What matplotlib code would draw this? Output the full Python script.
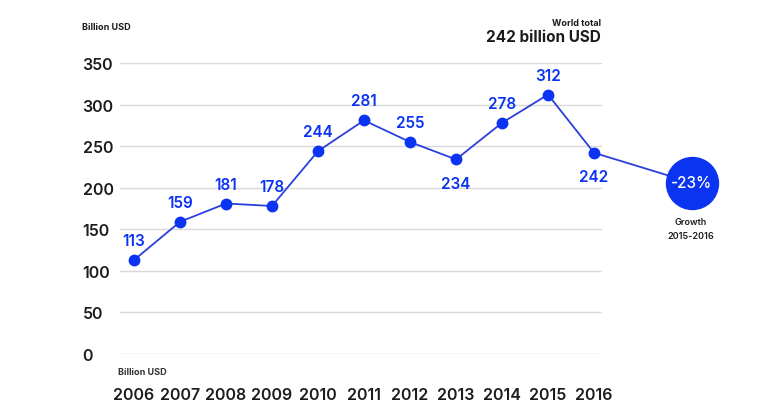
import matplotlib.pyplot as plt

plt.rcParams['font.family'] = ['Inter', 'DejaVu Sans']

years = [2006, 2007, 2008, 2009, 2010, 2011, 2012, 2013, 2014, 2015, 2016]
values = [113, 159, 181, 178, 244, 281, 255, 234, 278, 312, 242]
# label placement: 1 = above the point, -1 = below
label_side = [1, 1, 1, 1, 1, 1, 1, -1, 1, 1, -1]
yticks = [0, 50, 100, 150, 200, 250, 300, 350]

growth_text = '-23%'
growth_pos = (2018.13, 206)

blue = '#2b3fdc'
bright = '#0b33f2'
dark = '#1c1c1c'

fig = plt.figure(figsize=(7.68, 4.14), dpi=100)
ax = fig.add_axes([120 / 768, 59 / 414, 482 / 768, 291 / 414])

ax.set_xlim(2006 - 14 / 46, 2016 + 8 / 46)
ax.set_ylim(0, 350)
ax.set_yticks(yticks)
ax.set_xticks(years)
for s in ax.spines.values():
    s.set_visible(False)
ax.grid(axis='y', color='#d9d9d9', linewidth=1.0)
ax.set_axisbelow(True)

ax.tick_params(axis='y', length=0, pad=27, labelsize=11.5, labelcolor=dark)
for lbl in ax.get_yticklabels():
    lbl.set_horizontalalignment('left')
ax.tick_params(axis='x', length=0, pad=24, labelsize=11.5, labelcolor=dark)
for lbl in ax.get_xticklabels() + ax.get_yticklabels():
    lbl.set_fontweight('semibold')

# line to the growth bubble
ax.plot([years[-1], growth_pos[0]], [values[-1], growth_pos[1]],
        color=blue, linewidth=1.3, clip_on=False, zorder=2)
ax.plot(years, values, color=blue, linewidth=1.3, marker='o',
        markersize=7.5, markerfacecolor=bright, markeredgecolor=bright, zorder=3)

for x, v, side in zip(years, values, label_side):
    off = 14 if side > 0 else -17
    ax.annotate(str(v), (x, v), xytext=(0, off), textcoords='offset points',
                ha='center', va='center', color=bright, fontsize=11, fontweight='semibold')

ax.scatter([growth_pos[0]], [growth_pos[1]], s=1400, color=bright, clip_on=False, zorder=4)
ax.text(growth_pos[0], growth_pos[1], growth_text, color='white', fontsize=11,
        ha='center', va='center', zorder=5, fontweight='medium')
fig.text(691 / 768, 1 - 223 / 414, 'Growth', ha='center', va='center', fontsize=6.5,
         color=dark, fontweight='semibold')
fig.text(691 / 768, 1 - 237 / 414, '2015-2016', ha='center', va='center', fontsize=6.5,
         color=dark, fontweight='semibold')

fig.text(82 / 768, 1 - 28 / 414, 'Billion USD', ha='left', va='center', fontsize=6.5,
         color=dark, fontweight='bold')
fig.text(118 / 768, 1 - 373 / 414, 'Billion USD', ha='left', va='center', fontsize=6.5,
         color='#333333', fontweight='bold')
fig.text(601 / 768, 1 - 23 / 414, 'World total', ha='right', va='center', fontsize=6.5,
         color=dark, fontweight='bold')
fig.text(601 / 768, 1 - 38 / 414, '242 billion USD', ha='right', va='center', fontsize=11,
         color=dark, fontweight='bold')

fig.savefig('out.png', dpi=100)
